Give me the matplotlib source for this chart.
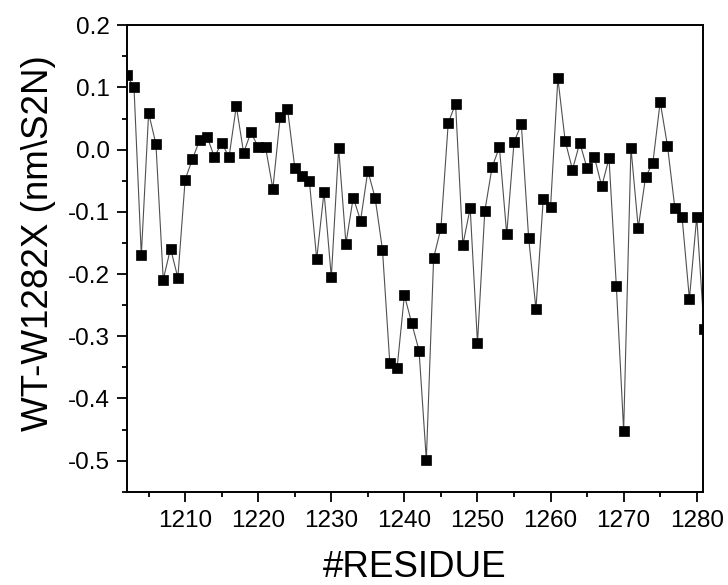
import matplotlib
matplotlib.use("Agg")
import matplotlib.pyplot as plt
from matplotlib.ticker import MultipleLocator, FormatStrFormatter

plt.rcParams['font.family'] = ['Liberation Sans', 'DejaVu Sans']
plt.rcParams['axes.unicode_minus'] = False

residues = list(range(1202, 1282))
values = [
    0.120, 0.100, -0.170, 0.059, 0.009, -0.209, -0.159, -0.206, -0.048, -0.015,
    0.016, 0.021, -0.012, 0.011, -0.012, 0.070, -0.005, 0.028, 0.004, 0.004,
    -0.063, 0.052, 0.066, -0.029, -0.042, -0.051, -0.176, -0.068, -0.205, 0.003,
    -0.151, -0.077, -0.114, -0.034, -0.078, -0.161, -0.343, -0.351, -0.234, -0.279,
    -0.323, -0.499, -0.174, -0.126, 0.043, 0.074, -0.153, -0.094, -0.311, -0.099,
    -0.028, 0.004, -0.136, 0.012, 0.041, -0.142, -0.256, -0.079, -0.092, 0.115,
    0.014, -0.032, 0.011, -0.030, -0.012, -0.059, -0.014, -0.219, -0.452, 0.003,
    -0.126, -0.044, -0.021, 0.077, 0.006, -0.093, -0.109, -0.240, -0.108, -0.288,
]

xlabel = "#RESIDUE"
ylabel = "WT-W1282X (nm\\S2N)"

fig = plt.figure(figsize=(7.28, 5.85), dpi=100)
ax = fig.add_axes([126.7/728, 1-491.7/585, (703.3-126.7)/728, (491.7-25.3)/585])

ax.plot(residues, values, color='#505050', linewidth=0.8, marker='s',
        markersize=7.2, markerfacecolor='black', markeredgecolor='black',
        markeredgewidth=0.5, clip_on=True)

ax.set_xlim(1202, 1280.9)
ax.set_ylim(-0.55, 0.2)

ax.xaxis.set_major_locator(MultipleLocator(10))
ax.xaxis.set_minor_locator(MultipleLocator(5))
ax.yaxis.set_major_locator(MultipleLocator(0.1))
ax.yaxis.set_minor_locator(MultipleLocator(0.05))
ax.yaxis.set_major_formatter(FormatStrFormatter('%.1f'))

for s in ax.spines.values():
    s.set_linewidth(1.4)

ax.tick_params(axis='both', which='major', direction='out', length=7, width=1.3,
               top=False, right=False)
ax.tick_params(axis='both', which='minor', direction='out', length=3.5, width=1.3,
               top=False, right=False)
ax.tick_params(axis='x', which='major', labelsize=17.5, pad=6)
ax.tick_params(axis='y', which='major', labelsize=17.5, pad=5)

ax.set_xlabel(xlabel, fontsize=26.5, labelpad=13)
ax.set_ylabel(ylabel, fontsize=26.5)
ax.yaxis.set_label_coords((56-126.7)/576.6, 0.534)

fig.savefig("out.png", dpi=100)
